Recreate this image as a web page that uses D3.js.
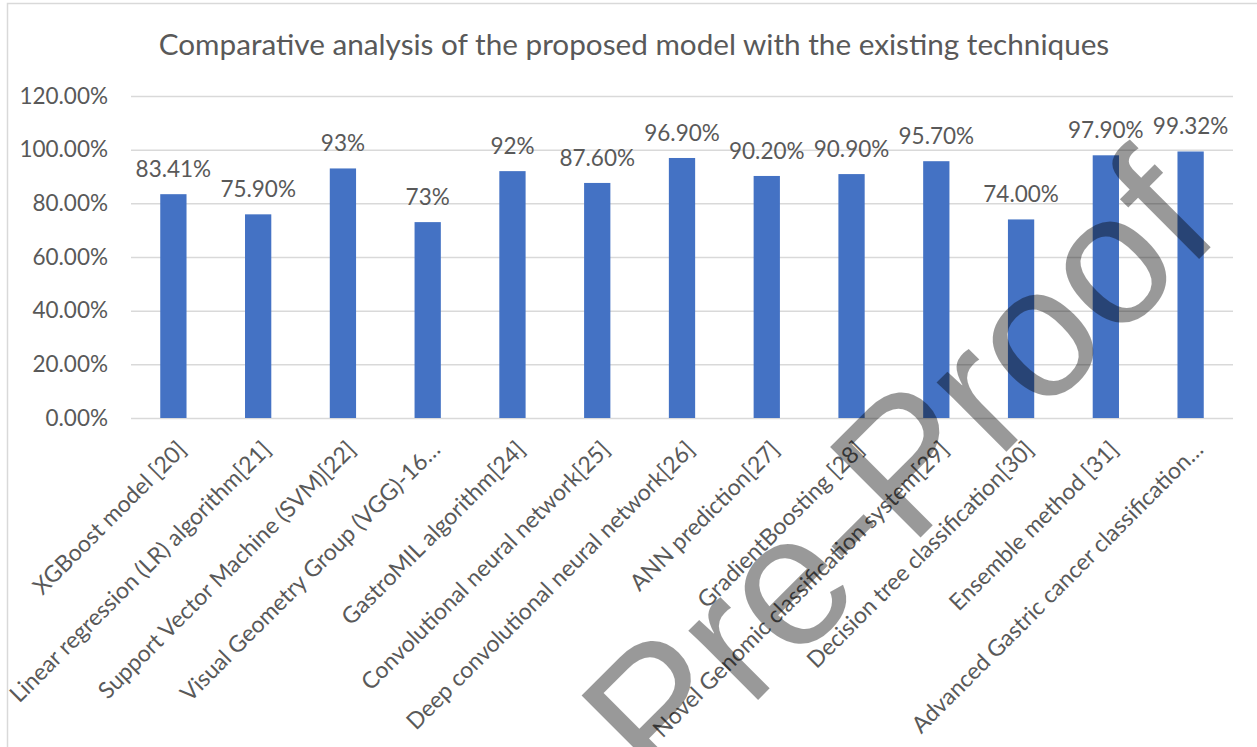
<!DOCTYPE html>
<html>
<head>
<meta charset="utf-8">
<script src="https://cdn.jsdelivr.net/npm/d3@7"></script>
<style>
  html, body { margin: 0; padding: 0; background: #ffffff; }
  svg { display: block; }
</style>
</head>
<body>
<svg id="chart" width="1257" height="747"></svg>
<script>
// Accuracy of each method (fraction of 1)
const methods = [
  "XGBoost model [20]",
  "Linear regression (LR) algorithm[21]",
  "Support Vector Machine (SVM)[22]",
  "Visual Geometry Group (VGG)-16…",
  "GastroMIL algorithm[24]",
  "Convolutional neural network[25]",
  "Deep convolutional neural network[26]",
  "ANN prediction[27]",
  "GradientBoosting [28]",
  "Novel Genomic classification system[29]",
  "Decision tree classification[30]",
  "Ensemble method [31]",
  "Advanced Gastric cancer classification…"
];
const accuracy = [0.8341, 0.759, 0.93, 0.73, 0.92, 0.876, 0.969, 0.902, 0.909, 0.957, 0.74, 0.979, 0.9932];
// Decimal places shown in each value label
const labelDecimals = [2, 2, 0, 0, 0, 2, 2, 2, 2, 2, 2, 2, 2];
const yTicks = [0, 0.2, 0.4, 0.6, 0.8, 1.0, 1.2];

const title = "Comparative analysis of the proposed model with the existing techniques";
const watermark = "Pre-Proof";

const W = 1257, H = 747;
const plot = { left: 131, right: 1233, top: 96, bottom: 418 };
const textColor = "#595959";
const barColor = "#4472C4";
const gridColor = "#d9d9d9";
const font = "Lato, 'Open Sans', sans-serif";

const svg = d3.select("#chart");

svg.append("rect").attr("width", W).attr("height", H).attr("fill", "#fff");

// chart-area frame (runs past the right and bottom edges)
svg.append("rect")
  .attr("x", 7.5).attr("y", 3.5)
  .attr("width", W + 20).attr("height", H + 20)
  .attr("fill", "none").attr("stroke", gridColor).attr("stroke-width", 1.5);

const x = d3.scaleBand()
  .domain(methods)
  .range([plot.left, plot.right])
  .paddingInner(0.69)
  .paddingOuter(0.345);

const y = d3.scaleLinear()
  .domain([0, 1.2])
  .range([plot.bottom, plot.top]);

// Title
svg.append("text")
  .attr("x", 634).attr("y", 55)
  .attr("text-anchor", "middle")
  .attr("font-family", font)
  .attr("font-size", 29.7)
  .attr("fill", textColor)
  .text(title);

// Y axis with gridlines
const yAxis = d3.axisLeft(y)
  .tickValues(yTicks)
  .tickFormat(d3.format(".2%"))
  .tickSize(-(plot.right - plot.left))
  .tickPadding(23);

const gy = svg.append("g")
  .attr("transform", `translate(${plot.left},0)`)
  .call(yAxis);
gy.select(".domain").remove();
gy.selectAll(".tick line")
  .attr("stroke", gridColor).attr("stroke-width", 1.5);
gy.selectAll(".tick text")
  .attr("font-family", font)
  .attr("font-size", 22.5)
  .attr("fill", textColor);

// Bars
const rows = methods.map((m, i) => ({ m, v: accuracy[i], d: labelDecimals[i] }));

svg.append("g").selectAll("rect")
  .data(rows)
  .join("rect")
  .attr("x", d => x(d.m))
  .attr("y", d => y(d.v))
  .attr("width", x.bandwidth())
  .attr("height", d => y(0) - y(d.v))
  .attr("fill", barColor);

// Value labels
svg.append("g").selectAll("text")
  .data(rows)
  .join("text")
  .attr("x", d => x(d.m) + x.bandwidth() / 2)
  .attr("y", d => y(d.v) - 17)
  .attr("text-anchor", "middle")
  .attr("font-family", font)
  .attr("font-size", 22.5)
  .attr("fill", textColor)
  .text(d => d3.format(`.${d.d}%`)(d.v));

// Category labels, rotated
const xAxis = d3.axisBottom(x).tickSize(0).tickPadding(0);
const gx = svg.append("g")
  .attr("transform", `translate(0,${plot.bottom})`)
  .call(xAxis);
gx.select(".domain").remove();
gx.selectAll(".tick text")
  .attr("font-family", font)
  .attr("font-size", 23)
  .attr("fill", textColor)
  .attr("text-anchor", "end")
  .attr("dy", null)
  .attr("y", null)
  .attr("transform", "translate(14,33) rotate(-45)");

// Watermark
svg.append("text")
  .attr("transform", "translate(1224,234) rotate(-45)")
  .attr("text-anchor", "end")
  .attr("font-family", "'Liberation Sans', Arial, sans-serif")
  .attr("font-size", 186)
  .attr("fill", "#000")
  .attr("fill-opacity", 0.4)
  .text(watermark);
</script>
</body>
</html>
